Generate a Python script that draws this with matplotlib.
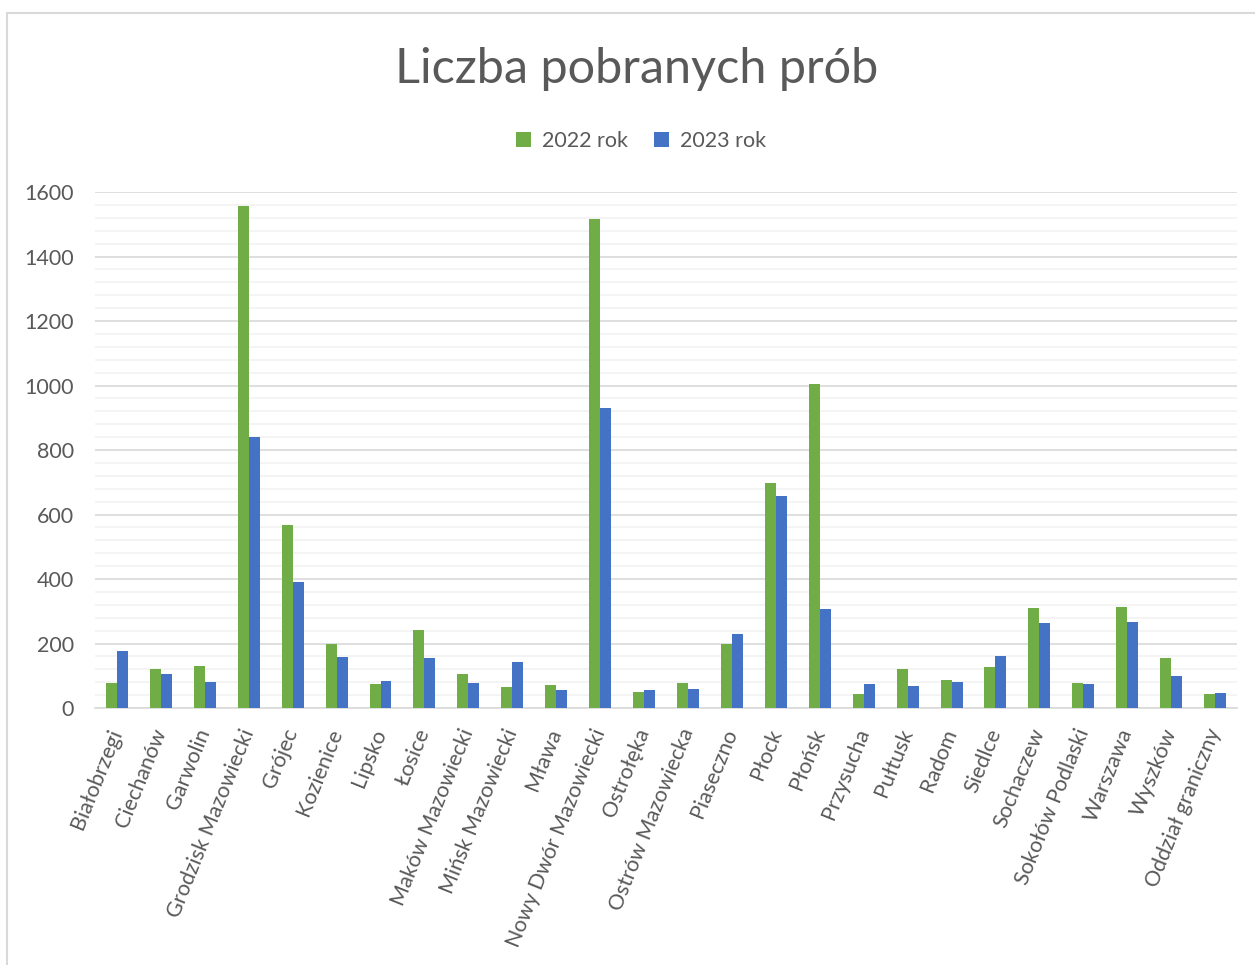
import numpy as np
import matplotlib.pyplot as plt
from matplotlib.lines import Line2D
from matplotlib.ticker import MultipleLocator

plt.rcParams['font.family'] = ['Lato', 'DejaVu Sans']

categories = ['Białobrzegi', 'Ciechanów', 'Garwolin', 'Grodzisk Mazowiecki', 'Grójec',
              'Kozienice', 'Lipsko', 'Łosice', 'Maków Mazowiecki', 'Mińsk Mazowiecki',
              'Mława', 'Nowy Dwór Mazowiecki', 'Ostrołęka', 'Ostrów Mazowiecka', 'Piaseczno',
              'Płock', 'Płońsk', 'Przysucha', 'Pułtusk', 'Radom', 'Siedlce', 'Sochaczew',
              'Sokołów Podlaski', 'Warszawa', 'Wyszków', 'Oddział graniczny']
rok_2022 = [77, 122, 131, 1558, 568, 198, 74, 243, 107, 65, 70, 1516, 51, 79, 199,
            699, 1004, 45, 120, 87, 127, 310, 78, 314, 156, 43]
rok_2023 = [176, 105, 82, 840, 391, 157, 84, 156, 79, 142, 57, 929, 57, 59, 230,
            656, 308, 75, 68, 82, 162, 264, 75, 267, 98, 47]

text_col = '#595959'
green = '#70AD47'
blue = '#4472C4'

fig = plt.figure(figsize=(12.55, 9.65), dpi=100)
ax = fig.add_axes([0.0757, 0.2663, 0.91, 0.5347])

x = np.arange(len(categories))
w = 0.25
ax.bar(x - w / 2, rok_2022, w, color=green, label='2022 rok', zorder=3)
ax.bar(x + w / 2, rok_2023, w, color=blue, label='2023 rok', zorder=3)

ax.set_xlim(-0.5, len(categories) - 0.5)
ax.set_ylim(0, 1600)
ax.yaxis.set_major_locator(MultipleLocator(200))
ax.yaxis.set_minor_locator(MultipleLocator(40))
ax.grid(axis='y', which='major', color='#D9D9D9', lw=1.2, zorder=0)
ax.grid(axis='y', which='minor', color='#F2F2F2', lw=1.2, zorder=0)
for s in ['top', 'right', 'left']:
    ax.spines[s].set_visible(False)
ax.spines['bottom'].set_color('#D9D9D9')
ax.spines['bottom'].set_linewidth(1.2)
ax.tick_params(axis='y', which='both', length=0, labelsize=15.5, labelcolor=text_col, pad=15)
ax.tick_params(axis='x', length=0, labelsize=15.5, labelcolor=text_col, pad=8)

ax.set_xticks(x)
ax.set_xticklabels(categories, rotation=68, ha='right', va='center', rotation_mode='anchor')
for lbl in ax.get_xticklabels():
    lbl.set_y(-0.02)

fig.text(0.507, 0.929, 'Liczba pobranych prób', ha='center', va='center',
         fontsize=35, color=text_col, fontweight='normal')
ax.legend(loc='center', bbox_to_anchor=(0.478, 1.098), ncol=2, frameon=False,
          fontsize=15.5, labelcolor=text_col, handlelength=0.7, handleheight=0.7,
          columnspacing=1.2, handletextpad=0.5)

# chart area border
fig.add_artist(Line2D([7 / 1255, 1], [1 - 13 / 965, 1 - 13 / 965], color='#D9D9D9', lw=1.5))
fig.add_artist(Line2D([7 / 1255, 7 / 1255], [0, 1 - 13 / 965], color='#D9D9D9', lw=1.5))

fig.savefig('out.png', dpi=100)
